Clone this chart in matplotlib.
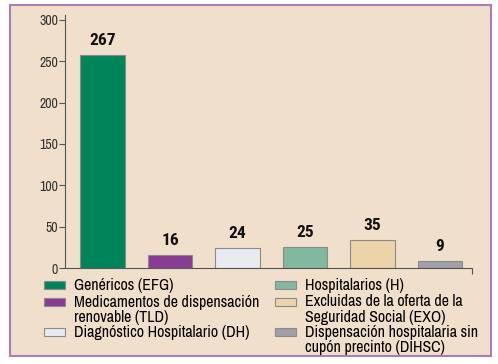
import matplotlib
matplotlib.use('Agg')
import matplotlib.pyplot as plt
from matplotlib.patches import Rectangle

plt.rcParams['font.family'] = ['Archivo Narrow', 'Roboto Condensed', 'DejaVu Sans']

# datos
categorias = ['Genéricos (EFG)',
              'Medicamentos de dispensación\nrenovable (TLD)',
              'Diagnóstico Hospitalario (DH)',
              'Hospitalarios (H)',
              'Excluidas de la oferta de la\nSeguridad Social (EXO)',
              'Dispensación hospitalaria sin\ncupón precinto (DIHSC)']
alturas = [258, 16, 24, 25, 34, 9]
etiquetas = ['267', '16', '24', '25', '35', '9']
colores = ['#00855a', '#8a3b94', '#e8ecf0', '#82b8a0', '#ecd4a8', '#a0a0a8']
yticks = [0, 50, 100, 150, 200, 250, 300]

W, H = 498, 364
fig = plt.figure(figsize=(W/100, H/100), dpi=100)
fig.patch.set_facecolor('white')

# marco
fig.patches.append(Rectangle((10/W, 1-356/H), 481/W, 351/H, transform=fig.transFigure,
                             facecolor='#f0e0cb', edgecolor='#a97db6', linewidth=1.5, zorder=-5))

ax = fig.add_axes([65/W, 1-268/H, 407/W, 253/H])
ax.patch.set_alpha(0)
x = list(range(len(alturas)))
ax.bar(x, alturas, width=0.66, color=colores, edgecolor='#8a8a8a', linewidth=0.8, zorder=2)
for xi, h, t in zip(x, alturas, etiquetas):
    ax.annotate(t, (xi, h), xytext=(0, 5), textcoords='offset points', ha='center', va='bottom',
                fontsize=12.5, fontweight='bold', color='#111111',
                family=['Roboto Condensed', 'DejaVu Sans'])

ax.set_xlim(-0.556, 5.474)
ax.set_ylim(0, 306)
ax.set_yticks(yticks)
ax.set_xticks([5.474])
ax.set_xticklabels([])
ax.tick_params(axis='y', direction='out', length=4, width=0.8, color='#555555', labelsize=10,
               labelcolor='#333333', pad=1)
ax.tick_params(axis='x', direction='out', length=4, width=0.8, color='#555555')
for s in ['top', 'right']:
    ax.spines[s].set_visible(False)
for s in ['left', 'bottom']:
    ax.spines[s].set_color('#555555')
    ax.spines[s].set_linewidth(0.8)

# leyenda manual
filas = [285, 301.5, 331.5]
cols = [(44, 74), (275, 305)]
for i, (cat, col) in enumerate(zip(categorias, colores)):
    cx, tx = cols[i // 3]
    yc = filas[i % 3]
    fig.patches.append(Rectangle((cx/W, 1-(yc+4)/H), 21/W, 8/H, transform=fig.transFigure,
                                 facecolor=col, edgecolor='#8a8a8a', linewidth=0.8))
    fig.text(tx/W, 1-(yc-7)/H, cat, ha='left', va='top', fontsize=11.5, color='#000000',
             linespacing=1.05)

fig.savefig('out.png', dpi=100)
